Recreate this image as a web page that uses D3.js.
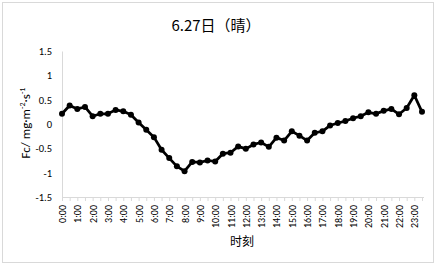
<!DOCTYPE html>
<html lang="zh">
<head>
<meta charset="UTF-8">
<title>6.27日（晴）</title>
<script src="https://d3js.org/d3.v7.min.js"></script>
<style>
  body, html { margin: 0; padding: 0; background: #fff; overflow: hidden; }
  svg { display: block; font-family: "Noto Sans CJK SC", "Noto Sans", sans-serif; }
</style>
</head>
<body>
<svg width="436" height="265"></svg>
<script>
// half-hourly flux values, 0:00 .. 23:30
const hours = d3.range(48).map(i => Math.floor(i / 2) + ":" + (i % 2 ? "30" : "00"));
const fc = [
  0.21, 0.38, 0.31, 0.35, 0.16, 0.21, 0.21, 0.29, 0.26, 0.19,
  0.03, -0.12, -0.27, -0.53, -0.70, -0.87, -0.97, -0.78, -0.79, -0.75,
  -0.77, -0.61, -0.59, -0.46, -0.51, -0.42, -0.38, -0.47, -0.28, -0.34,
  -0.15, -0.24, -0.34, -0.18, -0.15, -0.03, 0.02, 0.06, 0.12, 0.16,
  0.24, 0.21, 0.27, 0.31, 0.20, 0.33, 0.59, 0.25
];
const yTicks = [1.5, 1, 0.5, 0, -0.5, -1, -1.5];

const svg = d3.select("svg");
const plotL = 62, plotR = 422, plotT = 51, plotB = 197;
const latin = "Calibri, Carlito, 'Liberation Sans', sans-serif";

svg.append("rect").attr("x", 2.5).attr("y", 2.5).attr("width", 431).attr("height", 260)
  .attr("fill", "#fff").attr("stroke", "#d9d9d9");

const x = d3.scalePoint().domain(hours).range([plotL, plotR]);
const y = d3.scaleLinear().domain([-1.5, 1.5]).range([plotB, plotT]);

// y axis
const yAxis = svg.append("g").attr("transform", `translate(${plotL},0)`)
  .call(d3.axisLeft(y).tickValues(yTicks).tickSize(0).tickPadding(10).tickFormat(d => d));
yAxis.select(".domain").attr("stroke", "#d9d9d9");
yAxis.selectAll("text").attr("font-size", 10.5).attr("fill", "#000").attr("font-family", latin);

// x axis
const xAxis = svg.append("g").attr("transform", `translate(0,${plotB})`)
  .call(d3.axisBottom(x).tickSize(4).tickFormat(d => d.endsWith(":00") ? d : ""));
xAxis.select(".domain").attr("stroke", "#d9d9d9").attr("d", `M${plotL},0.5H${plotR + 2}`);
xAxis.selectAll(".tick line").attr("stroke", "#d9d9d9");
xAxis.selectAll("text")
  .attr("font-size", 10).attr("fill", "#000").attr("font-family", latin)
  .attr("transform", "rotate(-90)")
  .attr("text-anchor", "end")
  .attr("x", -8).attr("y", 0).attr("dy", "0.35em");

// line + markers
svg.append("path").datum(fc)
  .attr("fill", "none").attr("stroke", "#000").attr("stroke-width", 2.75)
  .attr("stroke-linejoin", "round")
  .attr("d", d3.line().x((d, i) => x(hours[i])).y(d => y(d)));
svg.append("g").selectAll("circle").data(fc).join("circle")
  .attr("cx", (d, i) => x(hours[i])).attr("cy", d => y(d)).attr("r", 3)
  .attr("fill", "#000");

// title
svg.append("text").attr("x", 216).attr("y", 31).attr("text-anchor", "middle")
  .attr("font-size", 15).attr("fill", "#000").text("6.27日（晴）");

// axis titles
svg.append("text").attr("x", 242).attr("y", 246).attr("text-anchor", "middle")
  .attr("font-size", 12).attr("fill", "#000").text("时刻");

const yt = svg.append("text").attr("transform", "translate(30,123) rotate(-90)")
  .attr("text-anchor", "middle").attr("font-size", 13).attr("fill", "#000")
  .attr("font-family", latin);
yt.append("tspan").text("Fc/ mg·m");
yt.append("tspan").attr("font-size", 8).attr("dy", -5).text("-2");
yt.append("tspan").attr("dy", 5).text("·s");
yt.append("tspan").attr("font-size", 8).attr("dy", -5).text("-1");
</script>
</body>
</html>
